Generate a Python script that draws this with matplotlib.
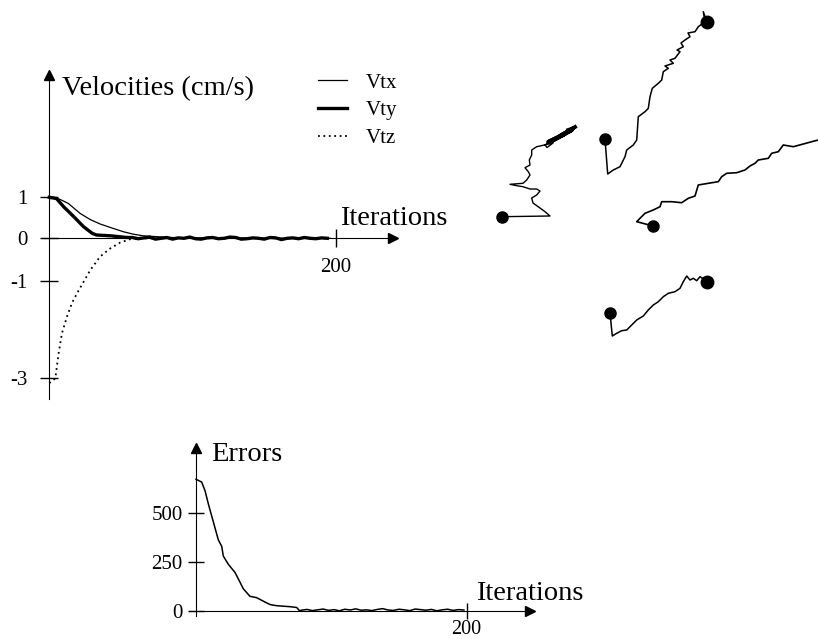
import numpy as np
import matplotlib.pyplot as plt

plt.rcParams['font.family'] = ['Liberation Serif', 'DejaVu Serif']

W, H = 818, 639

# ---- velocities (cm/s) against iterations ----
vtx_iter = [0, 3, 7.4, 13.3, 21.4, 28.4, 35.4, 44.7, 51.7, 58.7, 65.6, 74.9, 85, 100, 196]
vtx_vals = [1.0, 1.0, 0.95, 0.85, 0.61, 0.46, 0.35, 0.24, 0.16, 0.10, 0.06, 0.04, 0.02, 0.01, 0.0]

vty_head_iter = [0, 5, 10, 17, 24, 30, 33, 43, 54]
vty_head_vals = [1.0, 0.97, 0.77, 0.53, 0.28, 0.12, 0.08, 0.06, 0.02]
vty_tail_vals = [0.02, -0.01, 0.01, 0.03, -0.02, 0.0, 0.02, -0.02, 0.01, 0.0, 0.03, -0.01,
                 -0.02, 0.01, 0.02, -0.01, 0.0, 0.03, 0.02, -0.02, -0.01, 0.01, 0.0, -0.02,
                 0.02, 0.01, -0.03, 0.0, 0.01, -0.01, 0.02, 0.0, -0.01, 0.01, 0.0]

vtz_iter = [0, 4.2, 6.5, 8.8, 12.3, 15.8, 19.3, 24, 28.6, 35.5, 42.5, 49.5, 56.5, 61, 75]
vtz_vals = [-3.1, -3.0, -2.49, -2.08, -1.74, -1.46, -1.26, -1.02, -0.75, -0.43, -0.24, -0.10, -0.02, 0.0, 0.0]

vel_ticks = [1, 0, -1, -3]
vel_labels = ['1', '0', '-1', '-3']

# ---- errors against iterations ----
err_head_iter = [0, 4.2, 6.7, 9.1, 12.8, 16.5, 19, 20.2, 23.9, 28.8, 32.5, 35, 39.9, 44.8,
                 49.8, 54.7, 59.6, 69.5, 74.4, 76.4]
err_head_vals = [672, 658, 613, 547, 455, 363, 330, 280, 238, 197, 147, 113, 75, 68,
                 50, 33, 27, 22, 18, 2]
err_tail_vals = [4, 8, 2, 6, 10, 3, 7, 1, 9, 5, 11, 4, 6, 2, 8, 12, 5, 3, 9, 6, 2, 10, 7, 4,
                 8, 1, 6, 9, 3, 7, 5]
err_ticks = [0, 250, 500]

# ---- trajectories (image plane positions) ----
traj_a_x = [501.7, 550, 545, 540, 533, 531.7, 536.7, 540, 536.7, 530, 523, 516.7, 510, 523,
            526.7, 530, 528.3, 525, 530, 529.3, 531.7, 531.7, 536.7, 540, 553, 547, 545, 550,
            555, 561.7, 568.3, 573.3, 560, 570, 548, 565, 552, 572, 562, 575]
traj_a_y = [216.7, 216, 211.7, 208, 203, 198, 195, 191, 189, 189, 186.7, 185.7, 184.3, 183.3,
            180, 175, 171.7, 167.7, 165, 160, 155, 150, 146.7, 146, 143, 147.5, 145, 141.7,
            138.3, 133.3, 130, 128.3, 136, 131, 142, 134, 141, 130, 135, 127]

traj_b_x = [605, 607.7, 613.3, 620, 625, 626.7, 633.3, 636.7, 638.3, 645, 648.3, 650, 652.3,
            658.3, 661.7, 663.3, 668.3, 665, 673.3, 670, 675, 680, 677, 683.3, 681, 685, 690,
            688, 695, 698.3, 705, 703.3, 706.7]
traj_b_y = [139.3, 174, 170, 166.7, 156.7, 150, 145, 140, 116.7, 111.7, 108.3, 96.7, 88.3,
            83.3, 80, 71.7, 68.3, 66, 63.3, 60, 58.3, 51.7, 50, 46.7, 43, 40, 36.7, 33, 31.7,
            26.7, 21.7, 11.7, 21.7]

traj_c_x = [653.3, 636.7, 640, 645, 653.3, 660, 661.7, 671.7, 681.7, 688.3, 695, 698.3,
            708.3, 718.3, 721.7, 726.7, 736.7, 745, 750, 755, 758.3, 768.3, 771.7, 778.3,
            783.3, 793.3, 803.3, 811.7, 818.3]
traj_c_y = [226, 221.7, 218.3, 213.3, 210, 206.7, 201.7, 201.7, 202.7, 198.3, 196, 185,
            183.3, 181.7, 176.7, 173.3, 172.7, 170, 166, 163.3, 160, 158.3, 153.3, 151.7,
            145, 146.7, 144, 141.7, 140]

traj_d_x = [610, 612.3, 616.7, 621.7, 626.7, 631.7, 636.7, 643.3, 648.3, 653.3, 658.3, 663.3,
            668.3, 675, 680, 683.3, 686.7, 690, 693.3, 696.7, 700, 705, 706.7]
traj_d_y = [312.7, 336, 333.3, 330.7, 330, 325, 320, 316, 310, 305, 301.7, 296.7, 293.3,
            291.7, 288.3, 281.7, 276, 280, 278.3, 280.7, 276.7, 280, 281.7]


def box(x0, y0, x1, y1):
    # pixel box (left, top, right, bottom) -> figure fraction rect
    return [x0 / W, 1 - y1 / H, (x1 - x0) / W, (y1 - y0) / H]


fig = plt.figure(figsize=(W / 100, H / 100), dpi=100)

# velocity panel: the hand drawn axis is not evenly spaced, so use a piecewise scale
vk = np.array([-10, -3, -1, 0, 1, 10])
pk = np.array([718.0, 378.3, 280.7, 238.3, 197.3, -171.7])


def fwd(v):
    return -np.interp(v, vk, pk)


def inv(u):
    return np.interp(-u, pk[::-1], vk[::-1])


x_scale = 1.433
x0_pix = 49.3
vx_lo, vx_hi = -5, 240
vy_lo, vy_hi = -3.43, 3.98
ax1 = fig.add_axes(box(x0_pix + x_scale * vx_lo, -fwd(vy_hi), x0_pix + x_scale * vx_hi, -fwd(vy_lo)))
ax1.set_yscale('function', functions=(fwd, inv))
ax1.set_xlim(vx_lo, vx_hi)
ax1.set_ylim(vy_lo, vy_hi)
ax1.patch.set_alpha(0)

vty_tail_iter = np.arange(58, 58 + 4 * len(vty_tail_vals), 4)
l_tx, = ax1.plot(vtx_iter, vtx_vals, color='black', lw=0.9, label='Vtx')
l_ty, = ax1.plot(list(vty_head_iter) + list(vty_tail_iter), vty_head_vals + vty_tail_vals,
                 color='black', lw=2.4, label='Vty')
l_tz, = ax1.plot(vtz_iter, vtz_vals, color='black', lw=1.3, ls=(0, (1, 2)), label='Vtz')

for ax in [ax1]:
    ax.spines['left'].set_position(('data', 0))
    ax.spines['bottom'].set_position(('data', 0))
    ax.spines['right'].set_visible(False)
    ax.spines['top'].set_visible(False)
ax1.set_yticks(vel_ticks)
ax1.set_yticklabels(vel_labels)
ax1.yaxis.set_minor_locator(plt.NullLocator())
ax1.set_xticks([200])
ax1.tick_params(axis='both', direction='inout', length=13, width=1, labelsize=15)
ax1.tick_params(axis='y', pad=9)
ax1.tick_params(axis='x', pad=8)
ax1.plot(1, 0, '>k', ms=7, transform=ax1.get_yaxis_transform(), clip_on=False)
ax1.plot(0, 1, '^k', ms=7, transform=ax1.get_xaxis_transform(), clip_on=False)

fig.legend(handles=[l_tx, l_ty, l_tz], loc='upper left', bbox_to_anchor=(318 / W, 1 - 73 / H),
           frameon=False, fontsize=15, handlelength=1.4, handletextpad=0.9,
           labelspacing=0.4, borderpad=0, borderaxespad=0)

# error panel
ex_scale = 1.353
ex0_pix = 196
ey_scale = 49 / 250
ey0_pix = 611
ex_lo, ex_hi = -5, 247
ey_lo, ey_hi = -28, 831
ax2 = fig.add_axes(box(ex0_pix + ex_scale * ex_lo, ey0_pix - ey_scale * ey_hi,
                       ex0_pix + ex_scale * ex_hi, ey0_pix - ey_scale * ey_lo))
ax2.set_xlim(ex_lo, ex_hi)
ax2.set_ylim(ey_lo, ey_hi)
ax2.patch.set_alpha(0)
err_tail_iter = np.arange(78, 78 + 4 * len(err_tail_vals), 4)
ax2.plot(err_head_iter + list(err_tail_iter), err_head_vals + err_tail_vals, color='black', lw=1.1)
ax2.spines['left'].set_position(('data', 0))
ax2.spines['bottom'].set_position(('data', 0))
ax2.spines['right'].set_visible(False)
ax2.spines['top'].set_visible(False)
ax2.set_yticks(err_ticks)
ax2.set_xticks([200])
ax2.tick_params(axis='both', direction='inout', length=11, width=1, labelsize=15)
ax2.tick_params(axis='y', pad=4)
ax2.tick_params(axis='x', pad=1, labelsize=14.5)
ax2.plot(1, 0, '>k', ms=7, transform=ax2.get_yaxis_transform(), clip_on=False)
ax2.plot(0, 1, '^k', ms=7, transform=ax2.get_xaxis_transform(), clip_on=False)

# trajectory panel
ax3 = fig.add_axes(box(480, 0, 818, 350))
ax3.set_xlim(480, 818)
ax3.set_ylim(350, 0)
ax3.axis('off')
ax3.plot(traj_a_x, traj_a_y, color='black', lw=1.0)
ax3.plot(traj_a_x[-10:], traj_a_y[-10:], color='black', lw=2.8)
ax3.plot(traj_b_x, traj_b_y, color='black', lw=1.1)
ax3.plot(traj_c_x, traj_c_y, color='black', lw=1.2)
ax3.plot(traj_d_x, traj_d_y, color='black', lw=1.1)
for tx, ty in [(traj_a_x, traj_a_y), (traj_b_x, traj_b_y), (traj_c_x, traj_c_y), (traj_d_x, traj_d_y)]:
    ax3.plot(tx[0], ty[0], 'o', color='black', ms=8)
ax3.plot(traj_b_x[-1], traj_b_y[-1], 'o', color='black', ms=9)
ax3.plot(traj_d_x[-1], traj_d_y[-1], 'o', color='black', ms=9)

# labels
fig.text(62 / W, 1 - 95 / H, 'Velocities (cm/s)', fontsize=20.5, va='baseline', ha='left')
fig.text(340 / W, 1 - 225 / H, 'Iterations', fontsize=20.5, va='baseline', ha='left')
fig.text(211 / W, 1 - 461 / H, 'Errors', fontsize=20.5, va='baseline', ha='left')
fig.text(476 / W, 1 - 600 / H, 'Iterations', fontsize=20.5, va='baseline', ha='left')

fig.savefig('out.png', dpi=100)
